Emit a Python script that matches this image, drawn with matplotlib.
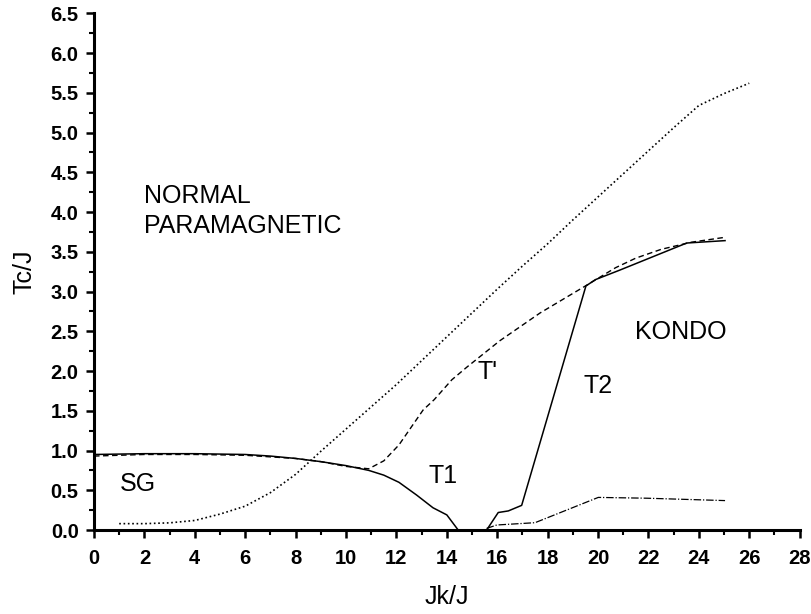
import matplotlib
matplotlib.use("Agg")
import matplotlib.pyplot as plt
from matplotlib.ticker import MultipleLocator, FormatStrFormatter

# dotted curve (upper crossover)
DOT_X = [1, 2, 3, 4, 5, 6, 7, 8, 9, 10, 11, 12, 13, 14, 15, 16, 17, 18, 19, 20,
         21, 22, 23, 24, 25, 26]
DOT_Y = [0.08, 0.08, 0.09, 0.12, 0.2, 0.3, 0.47, 0.7, 0.99, 1.27, 1.55, 1.83,
         2.13, 2.43, 2.73, 3.03, 3.32, 3.6, 3.9, 4.19, 4.48, 4.77, 5.06, 5.34,
         5.49, 5.62]

# solid SG / T1 line
SG_X = [0, 1, 2, 3, 4, 5, 6, 7, 8, 9, 10, 10.9, 11.5, 12.1, 12.8, 13.45, 14.0, 14.45]
SG_Y = [0.95, 0.955, 0.96, 0.96, 0.96, 0.955, 0.95, 0.93, 0.9, 0.86, 0.81,
        0.75, 0.69, 0.6, 0.44, 0.28, 0.19, 0.0]

# dashed T' line
TP_X = [0, 2, 4, 6, 8, 9, 10, 10.9, 11.5, 12.1, 13.06, 13.5, 14.2, 14.8, 16.1,
        17.7, 19.5, 20.7, 21.5, 22.5, 23.7, 25.0]
TP_Y = [0.93, 0.95, 0.95, 0.94, 0.9, 0.86, 0.8, 0.77, 0.87, 1.07, 1.51, 1.64,
        1.89, 2.05, 2.38, 2.73, 3.07, 3.3, 3.42, 3.53, 3.62, 3.68]

# solid T2 line
T2_X = [15.58, 16.04, 16.44, 16.97, 19.52, 19.9, 20.87, 23.52, 25.04]
T2_Y = [0.0, 0.22, 0.24, 0.31, 3.07, 3.15, 3.27, 3.61, 3.64]

# dash-dot lower line
LOW_X = [15.58, 15.98, 17.5, 20.01, 21.93, 25.04]
LOW_Y = [0.02, 0.063, 0.092, 0.41, 0.40, 0.37]

plt.rcParams['font.family'] = ['Liberation Sans', 'DejaVu Sans']

fig = plt.figure(figsize=(8.11, 6.14), dpi=100)
ax = fig.add_axes([0.1159, 0.1368, 0.8701, 0.8416])

ax.plot(DOT_X, DOT_Y, color='black', lw=1.2, linestyle=(0, (1, 1.6)), clip_on=False)
ax.plot(TP_X, TP_Y, color='black', lw=1.0, linestyle=(0, (4, 2.5)), clip_on=False)
ax.plot(SG_X, SG_Y, color='black', lw=1.1, clip_on=False)
ax.plot(T2_X, T2_Y, color='black', lw=1.1, clip_on=False)
ax.plot(LOW_X, LOW_Y, color='black', lw=0.9, linestyle=(0, (6, 1.5, 1, 1.5)), clip_on=False)

ax.set_xlim(0, 28)
ax.set_ylim(0, 6.5)
ax.xaxis.set_major_locator(MultipleLocator(2))
ax.xaxis.set_minor_locator(MultipleLocator(1))
ax.yaxis.set_major_locator(MultipleLocator(0.5))
ax.yaxis.set_minor_locator(MultipleLocator(0.25))
ax.xaxis.set_major_formatter(FormatStrFormatter('%d'))
ax.yaxis.set_major_formatter(FormatStrFormatter('%.1f'))

for side in ['top', 'right']:
    ax.spines[side].set_visible(False)
for side in ['left', 'bottom']:
    ax.spines[side].set_linewidth(2.2)

ax.tick_params(which='major', direction='out', length=6, width=1.8, labelsize=14.5)
ax.tick_params(which='minor', direction='out', length=3.5, width=1.5)
ax.tick_params(axis='x', which='major', pad=8)
ax.tick_params(axis='y', which='major', pad=5)
for lbl in ax.get_xticklabels() + ax.get_yticklabels():
    lbl.set_fontweight('bold')

ax.set_xlabel('Jk/J', fontsize=18, labelpad=12)
ax.set_ylabel('Tc/J', fontsize=18, labelpad=10)

ax.text(2.0, 4.11, 'NORMAL', fontsize=18, ha='left', va='baseline')
ax.text(2.0, 3.74, 'PARAMAGNETIC', fontsize=18, ha='left', va='baseline')
ax.text(1.03, 0.49, 'SG', fontsize=18, ha='left', va='baseline')
ax.text(13.27, 0.59, 'T1', fontsize=18, ha='left', va='baseline')
ax.text(15.21, 1.9, "T'", fontsize=18, ha='left', va='baseline')
ax.text(19.42, 1.72, 'T2', fontsize=18, ha='left', va='baseline')
ax.text(21.47, 2.40, 'KONDO', fontsize=18, ha='left', va='baseline')

fig.savefig('out.png', dpi=100)
